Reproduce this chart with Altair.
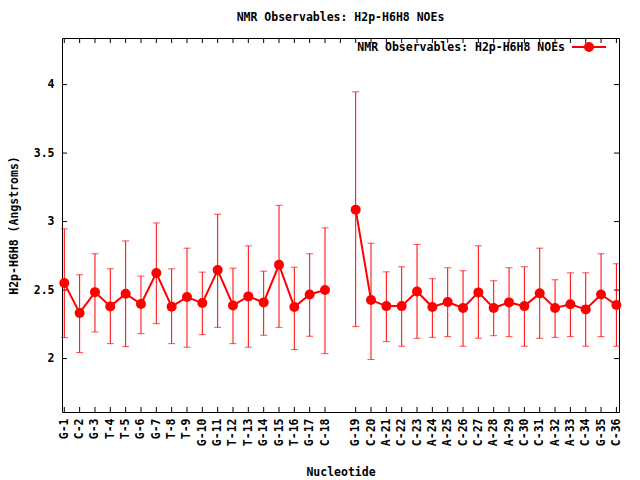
import altair as alt
import pandas as pd

names = ["G-1", "C-2", "G-3", "T-4", "T-5", "G-6", "G-7", "T-8", "T-9", "G-10",
         "G-11", "T-12", "T-13", "G-14", "G-15", "T-16", "G-17", "C-18",
         "G-19", "C-20", "A-21", "C-22", "C-23", "A-24", "A-25", "C-26", "C-27",
         "A-28", "A-29", "C-30", "C-31", "A-32", "A-33", "C-34", "G-35", "C-36"]
values = [2.551, 2.333, 2.485, 2.381, 2.473, 2.398, 2.624, 2.379, 2.449, 2.405,
          2.646, 2.388, 2.454, 2.410, 2.684, 2.376, 2.468, 2.500,
          3.087, 2.427, 2.383, 2.383, 2.490, 2.376, 2.413, 2.369, 2.483,
          2.369, 2.410, 2.383, 2.476, 2.369, 2.396, 2.359, 2.468, 2.391]
err_hi = [2.947, 2.612, 2.765, 2.655, 2.859, 2.602, 2.990, 2.655, 2.806, 2.631,
          3.053, 2.660, 2.823, 2.638, 3.119, 2.667, 2.765, 2.954,
          3.947, 2.842, 2.633, 2.670, 2.833, 2.583, 2.663, 2.641, 2.823,
          2.568, 2.663, 2.670, 2.806, 2.575, 2.626, 2.626, 2.765, 2.692]
err_lo = [2.153, 2.044, 2.194, 2.109, 2.087, 2.182, 2.255, 2.109, 2.083, 2.175,
          2.228, 2.109, 2.083, 2.170, 2.228, 2.066, 2.163, 2.036,
          2.233, 1.993, 2.124, 2.090, 2.148, 2.155, 2.160, 2.090, 2.148,
          2.167, 2.160, 2.090, 2.148, 2.155, 2.160, 2.090, 2.160, 2.090]
y_ticks = [2, 2.5, 3, 3.5, 4]
title_text = "NMR Observables: H2p-H6H8 NOEs"

W, H = 557, 374
RED = "#ff0000"
FONT = "DejaVu Sans Mono"
FS = 11.5

xpos = [i + 1 if i < 18 else i + 2 for i in range(len(names))]
seg = [1 if i < 18 else 2 for i in range(len(names))]
df = pd.DataFrame({"name": names, "x": xpos, "y": values, "hi": err_hi,
                   "lo": err_lo, "seg": seg})

label_arr = [""] * 38
for p, n in zip(xpos, names):
    label_arr[p] = n
label_expr = "[" + ",".join("'" + s + "'" for s in label_arr) + "][datum.value]"

xscale = alt.Scale(domain=[0.85, 37.17], nice=False, zero=False)
yscale = alt.Scale(domain=[1.61, 4.34], nice=False, zero=False)

xaxis = alt.Axis(values=xpos, labelExpr=label_expr, labelAngle=270,
                 labelFont=FONT, labelFontSize=FS, labelFontWeight="bold",
                 labelColor="black", labelOverlap=False, labelFlush=False,
                 labelBound=False, labelPadding=6, ticks=False, domain=False,
                 grid=False,
                 title="Nucleotide", titleFont=FONT, titleFontSize=FS,
                 titleFontWeight="bold", titleColor="black", titleY=60,
                 titleBaseline="middle")
yaxis = alt.Axis(values=y_ticks, format="~g", labelFont=FONT, labelFontSize=FS,
                 labelFontWeight="bold", labelColor="black", labelPadding=8,
                 labelOverlap=False,
                 ticks=False, domain=False, grid=False,
                 title="H2p-H6H8 (Angstroms)", titleFont=FONT, titleFontSize=FS,
                 titleFontWeight="bold", titleColor="black", titleX=-48,
                 titleY=H / 2, titleBaseline="middle", titleAngle=270,
                 titleAlign="center")

base = alt.Chart(df)
X = alt.X("x:Q", scale=xscale, axis=xaxis)


def Yf(field):
    return alt.Y(field + ":Q", scale=yscale, axis=yaxis)


line = base.mark_line(color=RED, strokeWidth=2).encode(x=X, y=Yf("y"), detail="seg:N")
bars = base.mark_rule(color=RED, strokeWidth=1).encode(x=X, y=Yf("lo"), y2="hi:Q")
cap_hi = base.mark_tick(color=RED, thickness=1, size=7, orient="horizontal").encode(
    x=X, y=Yf("hi"))
cap_lo = base.mark_tick(color=RED, thickness=1, size=7, orient="horizontal").encode(
    x=X, y=Yf("lo"))
pts = base.mark_circle(color=RED, size=100, opacity=1).encode(x=X, y=Yf("y"))

# inward tick marks (gnuplot style) on all four sides
bx = pd.DataFrame({"t": xpos})
tx = pd.DataFrame({"t": list(range(1, 38))})
ty = pd.DataFrame({"t": y_ticks})
tk = dict(color="black", strokeWidth=1)
XT = alt.X("t:Q", scale=xscale, axis=xaxis)
YT = alt.Y("t:Q", scale=yscale, axis=yaxis)
tick_b = alt.Chart(bx).mark_rule(**tk).encode(
    x=XT, y=alt.value(H), y2=alt.value(H - 5))
tick_t = alt.Chart(tx).mark_rule(**tk).encode(
    x=XT, y=alt.value(0), y2=alt.value(5))
tick_l = alt.Chart(ty).mark_rule(**tk).encode(
    y=YT, x=alt.value(0), x2=alt.value(5))
tick_r = alt.Chart(ty).mark_rule(**tk).encode(
    y=YT, x=alt.value(W), x2=alt.value(W - 5))

# key inside top right
leg = pd.DataFrame({"label": [title_text]})
leg_text = alt.Chart(leg).mark_text(font=FONT, fontSize=FS, fontWeight="bold",
                                    align="right", baseline="middle",
                                    color="black").encode(
    text="label:N", x=alt.value(503), y=alt.value(10))
leg_line = alt.Chart(leg).mark_rule(color=RED, strokeWidth=2).encode(
    x=alt.value(510), x2=alt.value(544), y=alt.value(9))
leg_pt = alt.Chart(leg).mark_circle(color=RED, size=100, opacity=1).encode(
    x=alt.value(527), y=alt.value(9))

chart = alt.layer(
    tick_b, tick_t, tick_l, tick_r, bars, cap_hi, cap_lo, line, pts,
    leg_line, leg_pt, leg_text
).properties(
    width=W, height=H,
    title=alt.TitleParams(title_text, font=FONT, fontSize=FS, fontWeight="bold",
                          color="black", anchor="middle", offset=14),
    autosize=alt.AutoSizeParams(type="none"),
    padding={"left": 54, "top": 30, "right": 10, "bottom": 80},
    background="white",
).configure_view(stroke="black", strokeWidth=1).configure_axis(labelOverlap=False)

chart.save("out.html", embed_options={"renderer": "svg", "actions": False})
